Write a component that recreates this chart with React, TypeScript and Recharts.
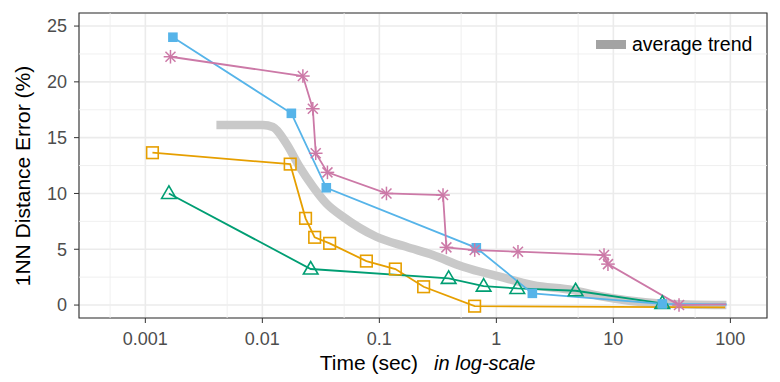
import React from 'react';
import {
  LineChart,
  Line,
  XAxis,
  YAxis,
  CartesianGrid,
  ReferenceLine,
  ReferenceArea,
  Legend,
} from 'recharts';

const FONT = '"Liberation Sans", Arial, Helvetica, sans-serif';
const BLUE = '#56B4E9';
const PINK = '#CC79A7';
const ORANGE = '#E69F00';
const GREEN = '#009E73';
const TREND = '#C9C9C9';

// axis ranges (log10 on x)
const X_MIN = Math.pow(10, -3.567);
const X_MAX = Math.pow(10, 2.313);
const Y_MIN = -1.16;
const Y_MAX = 26.17;

const X_TICKS = [0.001, 0.01, 0.1, 1, 10, 100];
const X_MINOR = [0.0005, 0.005, 0.05, 0.5, 5, 50];
const Y_TICKS = [0, 5, 10, 15, 20, 25];
const Y_MINOR = [2.5, 7.5, 12.5, 17.5, 22.5];

// series: time (sec) and 1NN distance error (%)
const BLUE_T = [0.00172, 0.0177, 0.0352, 0.674, 2.03, 26.2, 93];
const BLUE_E = [24.0, 17.18, 10.51, 5.13, 1.05, 0.1, 0.05];

const PINK_T = [0.00164, 0.0222, 0.027, 0.0286, 0.036, 0.115, 0.35, 0.374, 0.653, 1.53, 8.32, 8.99, 36.4, 92];
const PINK_E = [22.25, 20.52, 17.59, 13.6, 11.89, 10.0, 9.86, 5.17, 4.93, 4.78, 4.48, 3.67, 0.0, 0.06];

const ORANGE_T = [0.00115, 0.0173, 0.0234, 0.028, 0.0376, 0.0775, 0.137, 0.239, 0.652, 90];
const ORANGE_E = [13.65, 12.63, 7.77, 6.07, 5.53, 3.94, 3.23, 1.64, -0.1, -0.2];

const GREEN_T = [0.00159, 0.0259, 0.391, 0.778, 1.51, 4.76, 26.2];
const GREEN_E = [10.0, 3.23, 2.39, 1.7, 1.49, 1.28, 0.15];

const TREND_T = [0.00405, 0.0101, 0.0123, 0.016, 0.0208, 0.0271, 0.0352, 0.0489, 0.0942, 0.17, 0.287, 0.519, 1.07, 2.06, 4.52, 7.64, 24.9, 92.5];
const TREND_E = [16.13, 16.13, 15.95, 14.49, 12.39, 10.6, 9.11, 7.91, 6.12, 5.22, 4.48, 3.43, 2.54, 1.79, 1.34, 0.81, 0.15, 0.0];

const toRows = (ts: number[], es: number[]) => ts.map((t, i) => ({ t, e: es[i] }));

const blueData = toRows(BLUE_T, BLUE_E);
const pinkData = toRows(PINK_T, PINK_E);
const orangeData = toRows(ORANGE_T, ORANGE_E);
const greenData = toRows(GREEN_T, GREEN_E);
const trendData = toRows(TREND_T, TREND_E);

// markers (last point of the long tails has no marker)
const FilledSquare = (props: any) => {
  const { cx, cy, index } = props;
  if (index === BLUE_T.length - 1) return <g key={`bs${index}`} />;
  return <rect key={`bs${index}`} x={cx - 4.8} y={cy - 4.8} width={9.6} height={9.6} fill={BLUE} />;
};

const Asterisk = (props: any) => {
  const { cx, cy, index } = props;
  if (index === PINK_T.length - 1) return <g key={`pa${index}`} />;
  const r = 6.8;
  const d = 5;
  return (
    <g key={`pa${index}`} stroke={PINK} strokeWidth={1.5}>
      <line x1={cx - r} y1={cy} x2={cx + r} y2={cy} />
      <line x1={cx} y1={cy - r} x2={cx} y2={cy + r} />
      <line x1={cx - d} y1={cy - d} x2={cx + d} y2={cy + d} />
      <line x1={cx - d} y1={cy + d} x2={cx + d} y2={cy - d} />
    </g>
  );
};

const OpenSquare = (props: any) => {
  const { cx, cy, index } = props;
  if (index === ORANGE_T.length - 1) return <g key={`os${index}`} />;
  return (
    <rect key={`os${index}`} x={cx - 5.8} y={cy - 5.8} width={11.6} height={11.6}
      fill="none" stroke={ORANGE} strokeWidth={1.6} />
  );
};

const OpenTriangle = (props: any) => {
  const { cx, cy, index } = props;
  const h = 12.5;
  const w = 7.3;
  const pts = `${cx},${cy - h * 0.6} ${cx - w},${cy + h * 0.4} ${cx + w},${cy + h * 0.4}`;
  return <polygon key={`gt${index}`} points={pts} fill="none" stroke={GREEN} strokeWidth={1.6} />;
};

const YTitle = () => (
  <text transform="translate(30, 176) rotate(-90)" textAnchor="middle"
    fontSize={21} fill="#000" fontFamily={FONT}>
    1NN Distance Error (%)
  </text>
);

const XTitle = (props: any) => {
  const { viewBox } = props;
  return (
    <text x={viewBox.x + viewBox.width / 2 + 4.5} y={viewBox.y + 52} textAnchor="middle"
      fontSize={21} fill="#000" fontFamily={FONT}>
      <tspan>Time (sec)</tspan>
      <tspan dx={16} fontStyle="italic" fontSize={20}>in log-scale</tspan>
    </text>
  );
};

const TrendLegend = () => (
  <div style={{ display: 'flex', alignItems: 'center', fontFamily: FONT, fontSize: 19.5, color: '#000' }}>
    <span style={{ display: 'inline-block', width: 30, height: 9, background: '#A3A3A3', marginRight: 6 }} />
    <span>average trend</span>
  </div>
);

const App: React.FC = () => {
  return (
    <div style={{ position: 'absolute', left: 0, top: 0, background: '#fff' }}>
      <LineChart width={780} height={382} margin={{ top: 13, right: 13, bottom: 0, left: 0 }}
        style={{ fontFamily: FONT }}>
        <CartesianGrid stroke="#EBEBEB" strokeWidth={1.6} />
        {X_MINOR.map((v) => (
          <ReferenceLine key={`mx${v}`} x={v} stroke="#EEEEEE" strokeWidth={0.9} />
        ))}
        {Y_MINOR.map((v) => (
          <ReferenceLine key={`my${v}`} y={v} stroke="#EEEEEE" strokeWidth={0.9} />
        ))}
        <XAxis dataKey="t" type="number" scale="log" domain={[X_MIN, X_MAX]} allowDataOverflow
          ticks={X_TICKS} height={64} axisLine={false} tickSize={5} tickMargin={9}
          tickLine={{ stroke: '#333333' }} tick={{ fill: '#4D4D4D', fontSize: 18 }}
          label={<XTitle />} />
        <YAxis type="number" domain={[Y_MIN, Y_MAX]} allowDataOverflow ticks={Y_TICKS} width={79}
          axisLine={false} tickSize={5} tickMargin={7} tickLine={{ stroke: '#333333' }}
          tick={{ fill: '#4D4D4D', fontSize: 18 }} label={<YTitle />} />
        <Line data={trendData} dataKey="e" type="monotone" stroke={TREND} strokeWidth={8.5}
          dot={false} isAnimationActive={false} name="average trend" />
        <Line data={orangeData} dataKey="e" type="linear" stroke={ORANGE} strokeWidth={1.8}
          dot={OpenSquare} activeDot={false} isAnimationActive={false} />
        <Line data={greenData} dataKey="e" type="linear" stroke={GREEN} strokeWidth={1.8}
          dot={OpenTriangle} activeDot={false} isAnimationActive={false} />
        <Line data={blueData} dataKey="e" type="linear" stroke={BLUE} strokeWidth={1.8}
          dot={FilledSquare} activeDot={false} isAnimationActive={false} />
        <Line data={pinkData} dataKey="e" type="linear" stroke={PINK} strokeWidth={1.8}
          dot={Asterisk} activeDot={false} isAnimationActive={false} />
        <ReferenceArea x1={X_MIN} x2={X_MAX} y1={Y_MIN} y2={Y_MAX} fill="none" fillOpacity={0}
          stroke="#333333" strokeWidth={1.1} />
        <Legend content={() => <TrendLegend />} layout="horizontal" verticalAlign="middle" align="center"
          wrapperStyle={{ top: 33, left: 596, width: 'auto', height: 22 }} />
      </LineChart>
    </div>
  );
};

export default App;
